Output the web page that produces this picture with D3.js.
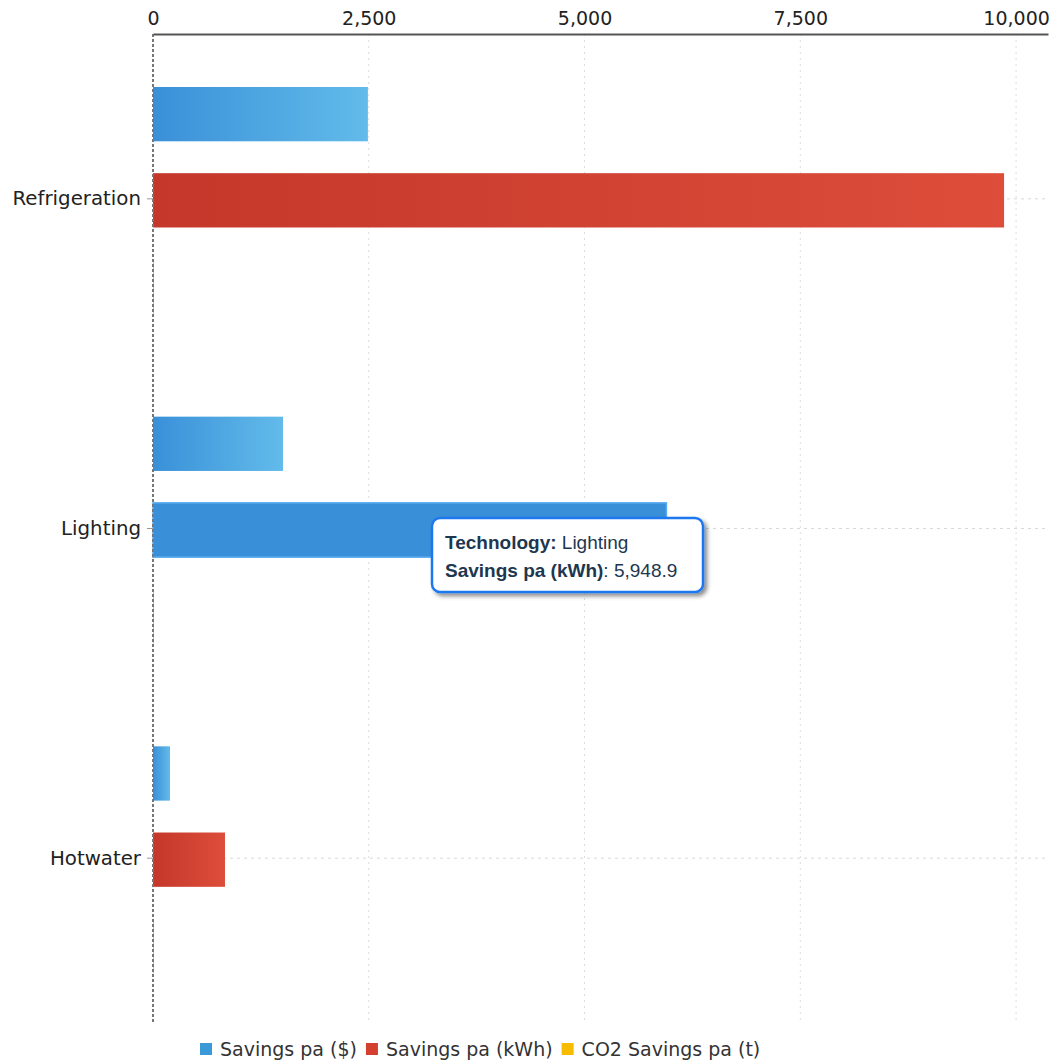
<!DOCTYPE html>
<html>
<head>
<meta charset="utf-8">
<script src="https://cdn.jsdelivr.net/npm/d3@7"></script>
<style>
  body { margin: 0; background: #fff; }
</style>
</head>
<body>
<div id="chart"></div>
<script>
// data
const technologies = ["Refrigeration", "Lighting", "Hotwater"];
const seriesNames = ["Savings pa ($)", "Savings pa (kWh)", "CO2 Savings pa (t)"];
const savingsDollars = [2490, 1506, 197];
const savingsKwh = [9861, 5948.9, 834];
const co2Tonnes = [9.9, 5.9, 0.8];
const xTicks = [0, 2500, 5000, 7500, 10000];

const W = 1054, H = 1063;
const margin = {top: 34, right: 6, bottom: 40, left: 153};
const FONT = "DejaVu Sans, sans-serif";

const svg = d3.select("#chart").append("svg")
    .attr("width", W)
    .attr("height", H);

const defs = svg.append("defs");
function grad(id, c1, c2) {
    const g = defs.append("linearGradient").attr("id", id)
        .attr("x1", "0%").attr("x2", "100%").attr("y1", "0%").attr("y2", "0%");
    g.append("stop").attr("offset", "0%").attr("stop-color", c1);
    g.append("stop").attr("offset", "100%").attr("stop-color", c2);
}
grad("gBlue", "#3a90d8", "#62bbea");
grad("gRed", "#c4372a", "#dd4d3a");
grad("gYellow", "#f2b100", "#ffcc33");

const f = defs.append("filter").attr("id", "shadow").attr("x", "-10%").attr("y", "-10%").attr("width", "130%").attr("height", "140%");
f.append("feDropShadow").attr("dx", 3).attr("dy", 3).attr("stdDeviation", 2).attr("flood-color", "#000").attr("flood-opacity", 0.45);

const x = d3.scaleLinear().domain([0, 10370]).range([margin.left, W - margin.right]);
const y = d3.scaleBand().domain(technologies).range([margin.top, H - margin.bottom]);

const series = [
    {name: seriesNames[0], values: savingsDollars, fill: "url(#gBlue)", color: "#3a9ad9"},
    {name: seriesNames[1], values: savingsKwh, fill: "url(#gRed)", color: "#d3402f"},
    {name: seriesNames[2], values: co2Tonnes, fill: "url(#gYellow)", color: "#f7bb00"}
];

const inner = d3.scaleBand().domain(d3.range(series.length))
    .range([3, y.bandwidth()]).paddingInner(0.37).paddingOuter(0.58);

// vertical grid lines
svg.append("g").selectAll("line")
    .data(xTicks.slice(1))
    .enter().append("line")
    .attr("x1", d => x(d)).attr("x2", d => x(d))
    .attr("y1", margin.top).attr("y2", H - margin.bottom)
    .attr("stroke", "#dcdcdc")
    .attr("stroke-dasharray", "2,4");

// horizontal grid lines at categories
svg.append("g").selectAll("line")
    .data(technologies)
    .enter().append("line")
    .attr("x1", margin.left).attr("x2", W - margin.right)
    .attr("y1", d => y(d) + y.bandwidth() / 2).attr("y2", d => y(d) + y.bandwidth() / 2)
    .attr("stroke", "#d8d8d8")
    .attr("stroke-dasharray", "3,4");

// bars
series.forEach((s, si) => {
    svg.append("g").selectAll("rect")
        .data(technologies)
        .enter().append("rect")
        .attr("x", x(0))
        .attr("y", d => y(d) + inner(si))
        .attr("width", (d, i) => Math.max(1, x(s.values[i]) - x(0)))
        .attr("height", inner.bandwidth())
        .attr("fill", (d, i) => (d === "Lighting" && si === 1) ? "#3a90d8" : s.fill)
        .attr("stroke", (d, i) => (d === "Lighting" && si === 1) ? "#5aaaf0" : "none")
        .attr("stroke-width", 1.5);
});

// left axis (dashed)
svg.append("line")
    .attr("x1", x(0)).attr("x2", x(0))
    .attr("y1", margin.top).attr("y2", H - margin.bottom)
    .attr("stroke", "#777")
    .attr("stroke-width", 2)
    .attr("stroke-dasharray", "3,2");

const yAxis = svg.append("g")
    .attr("transform", `translate(${x(0)},0)`)
    .call(d3.axisLeft(y).tickSize(6).tickPadding(6));
yAxis.select(".domain").remove();
yAxis.selectAll(".tick line").attr("stroke", "#999");
yAxis.attr("font-family", FONT);
yAxis.selectAll("text").attr("font-size", 19.8).attr("fill", "#222");

// top axis
const xAxis = svg.append("g")
    .attr("transform", `translate(0,${margin.top})`)
    .call(d3.axisTop(x).tickValues(xTicks).tickSize(0).tickPadding(9).tickFormat(d3.format(",")));
xAxis.select(".domain").attr("stroke", "#555").attr("stroke-width", 2);
xAxis.attr("font-family", FONT);
xAxis.selectAll("text").attr("font-size", 19).attr("fill", "#222");

// tooltip
const li = technologies.indexOf("Lighting");
const tip = svg.append("g").attr("transform", `translate(432,518)`);
tip.append("rect")
    .attr("width", 271).attr("height", 74).attr("rx", 8)
    .attr("fill", "#fff")
    .attr("stroke", "#1f78f0")
    .attr("stroke-width", 2.5)
    .attr("filter", "url(#shadow)");
const t1 = tip.append("text").attr("x", 13).attr("y", 31).attr("font-size", 19).attr("fill", "#1e3750")
    .attr("font-family", "Liberation Sans, Arial, sans-serif");
t1.append("tspan").attr("font-weight", "bold").text("Technology:");
t1.append("tspan").text(" " + technologies[li]);
const t2 = tip.append("text").attr("x", 13).attr("y", 59).attr("font-size", 19).attr("fill", "#1e3750")
    .attr("font-family", "Liberation Sans, Arial, sans-serif");
t2.append("tspan").attr("font-weight", "bold").text(seriesNames[1]);
t2.append("tspan").text(": " + d3.format(",.1f")(savingsKwh[li]));

// legend
const legend = svg.append("g").attr("transform", `translate(200,${H - 7})`);
let lx = 0;
series.forEach(s => {
    const g = legend.append("g").attr("transform", `translate(${lx},0)`);
    g.append("rect").attr("x", 0).attr("y", -13).attr("width", 12).attr("height", 12).attr("fill", s.color);
    const txt = g.append("text").attr("x", 20).attr("y", 0).attr("font-size", 19)
        .attr("font-family", FONT).attr("fill", "#333").text(s.name);
    lx += 20 + txt.node().getComputedTextLength() + 9;
});
</script>
</body>
</html>
